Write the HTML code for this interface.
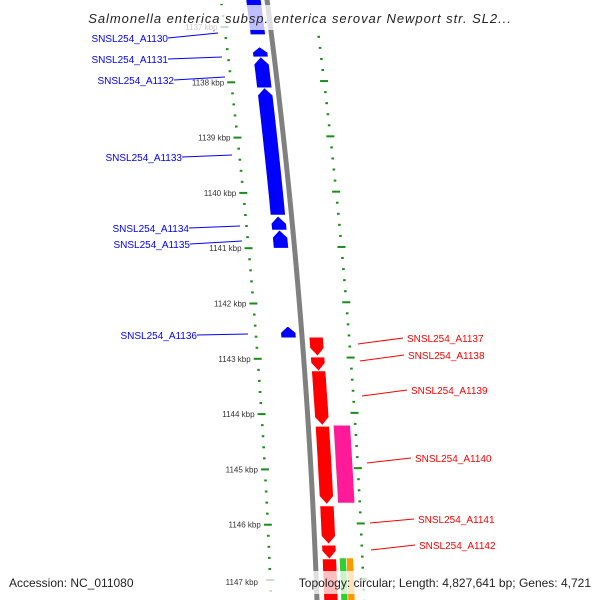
<!DOCTYPE html>
<html><head><meta charset="utf-8"><style>
html,body{margin:0;background:#fff;width:600px;height:600px;overflow:hidden;}
svg{display:block;overflow:hidden;font-family:"Liberation Sans","DejaVu Sans",sans-serif;}
</style></head><body>
<svg id="map" width="600" height="600" viewBox="0 0 600 600">
<defs>
<clipPath id="clip"><rect x="0" y="0" width="600" height="600"/></clipPath>
</defs>
<g clip-path="url(#clip)">
<g id="rings"></g><g id="genes"></g><g id="labels"></g>
<rect x="0" y="5" width="600" height="25" fill="#fff" fill-opacity="0.75"/>
<text x="300" y="23" text-anchor="middle" font-size="13" letter-spacing="0.95" font-style="italic" fill="#222">Salmonella enterica subsp. enterica serovar Newport str. SL2...</text>
<rect x="0" y="571" width="600" height="23" fill="#fff" fill-opacity="0.75"/>
<text x="9" y="587" font-size="12" fill="#222">Accession: NC_011080</text>
<text x="591" y="587" text-anchor="end" font-size="12" fill="#222">Topology: circular; Length: 4,827,641 bp; Genes: 4,721</text>
<text x="258" y="585" text-anchor="end" font-size="8" fill="#333">1147 kbp</text>
</g>
</svg>
<script>
const tickKbp=[1137,1138,1139,1140,1141,1142,1143,1144,1145,1146];
const blueNames=["SNSL254_A1130","SNSL254_A1131","SNSL254_A1132","SNSL254_A1133","SNSL254_A1134","SNSL254_A1135","SNSL254_A1136"];
const blueStart=[1136.33,1137.36,1137.54,1138.10,1140.42,1140.67,1142.41];
const blueEnd=[1137.14,1137.54,1138.10,1140.40,1140.67,1141.00,1142.62];
const redNames=["SNSL254_A1137","SNSL254_A1138","SNSL254_A1139","SNSL254_A1140","SNSL254_A1141","SNSL254_A1142",""];
const redStart=[1142.61,1142.97,1143.22,1144.22,1145.66,1146.37,1146.62];
const redEnd=[1142.95,1143.22,1144.20,1145.63,1146.35,1146.62,1147.60];
const otherStart=[1144.20,1146.60,1146.60];
const otherEnd=[1145.61,1147.60,1147.60];
const otherColor=["#ff1a9a","#33cc33","#ff9900"];
const NS="http://www.w3.org/2000/svg";
const Y=k=>27+(k-1137)*55.3;
const BX=y=>267+0.1306*y-7.88e-5*y*y;
function mk(tag,attrs,parent){const e=document.createElementNS(NS,tag);for(const a in attrs)e.setAttribute(a,attrs[a]);document.getElementById(parent).appendChild(e);return e;}
let pts=[];for(let y=-5;y<=605;y+=10)pts.push(BX(y)+","+y);
let bb=mk("polyline",{points:pts.join(" "),fill:"none",stroke:"#808080","stroke-width":5},"rings");


for(let k=1136.4;k<=1147.7;k+=0.2){
  const kk=Math.round(k*10)/10,y=Y(kk);
  const major=Math.abs(kk-Math.round(kk))<0.01;
  const x=BX(y)-46;
  const t=mk("line",{x1:x-(major?4:1.3),x2:x+(major?4:1.3),y1:y,y2:y,stroke:"#1a8c1a","stroke-width":2},"rings");
  
  
  const xo=BX(y+43)+47, yo=y+43;
  const omaj=Math.abs((kk-0.2)-Math.round(kk-0.2))<0.01;
  const t2=mk("line",{x1:xo-(omaj?4:1.3),x2:xo+(omaj?4:1.3),y1:yo,y2:yo,stroke:"#1a8c1a","stroke-width":2},"rings");
  
  
}
tickKbp.forEach(k=>{const y=Y(k);const tl=mk("text",{x:BX(y)-53,y:y+3,"text-anchor":"end","font-size":8,fill:"#333"},"rings");tl.textContent=k+" kbp";
  
  });
function gene(k1,k2,o1,o2,dir,color,name){
  const y1=Y(k1),y2=Y(k2);const h=Math.min(8,(y2-y1)*0.6);
  let p=[];const steps=6;
  if(dir===0){
    for(let i=0;i<=steps;i++){const y=y1+(y2-y1)*i/steps;p.push([BX(y)+o1,y]);}
    for(let i=steps;i>=0;i--){const y=y1+(y2-y1)*i/steps;p.push([BX(y)+o2,y]);}
  }else if(dir<0){
    const yb=y1+h;p.push([BX(y1)+(o1+o2)/2,y1]);p.push([BX(yb)+o1-0.5,yb]);
    for(let i=0;i<=steps;i++){const y=yb+(y2-yb)*i/steps;p.push([BX(y)+o1,y]);}
    for(let i=steps;i>=0;i--){const y=yb+(y2-yb)*i/steps;p.push([BX(y)+o2,y]);}
    p.push([BX(yb)+o2+0.5,yb]);
  }else{
    const yb=y2-h;
    for(let i=0;i<=steps;i++){const y=y1+(yb-y1)*i/steps;p.push([BX(y)+o1,y]);}
    p.push([BX(y2)+(o1+o2)/2,y2]);
    for(let i=steps;i>=0;i--){const y=y1+(yb-y1)*i/steps;p.push([BX(y)+o2,y]);}
  }
  const g=mk("polygon",{points:p.map(q=>q[0].toFixed(1)+","+q[1].toFixed(1)).join(" "),fill:color,stroke:"#fff","stroke-width":0.6},"genes");
  
  
}
blueStart.forEach((s,i)=>gene(s,blueEnd[i],-21,-6,-1,"#0000ff","gene-"+blueNames[i].toLowerCase()));
redStart.forEach((s,i)=>gene(s,redEnd[i],7,21,1,"#ff0000","gene-"+(redNames[i]||"a1143").toLowerCase()));
otherStart.forEach((s,i)=>{const o=[[25,42],[24,31],[31,38]][i];gene(s,otherEnd[i],o[0],o[1],0,otherColor[i],"feature-"+i);});
const blueLab=[[168,40,218,33],[168,61,222,57],[174,82,225,77],[182,159,232,155],[189,230,240,226],[190,246,242,241],[197,337,248,334]];
const redLab=[[407,339,358,344],[408,356,360,361],[411,391,362,396],[415,459,367,463],[418,520,370,523],[419,546,371,550]];
blueLab.forEach((l,i)=>{const ln=mk("line",{x1:l[0],y1:l[1]-2,x2:l[2],y2:l[3],stroke:"#0000ff","stroke-width":1},"labels");
  
  const t=mk("text",{x:l[0],y:l[1]+2,"text-anchor":"end","font-size":10,fill:"#0000ff"},"labels");t.textContent=blueNames[i];
  });
redLab.forEach((l,i)=>{const ln=mk("line",{x1:l[2],y1:l[3],x2:l[0]-4,y2:l[1]-1,stroke:"#ff0000","stroke-width":1},"labels");
  
  const t=mk("text",{x:l[0],y:l[1]+3,"font-size":10,fill:"#ff0000"},"labels");t.textContent=redNames[i];
  });
</script>
</body></html>
